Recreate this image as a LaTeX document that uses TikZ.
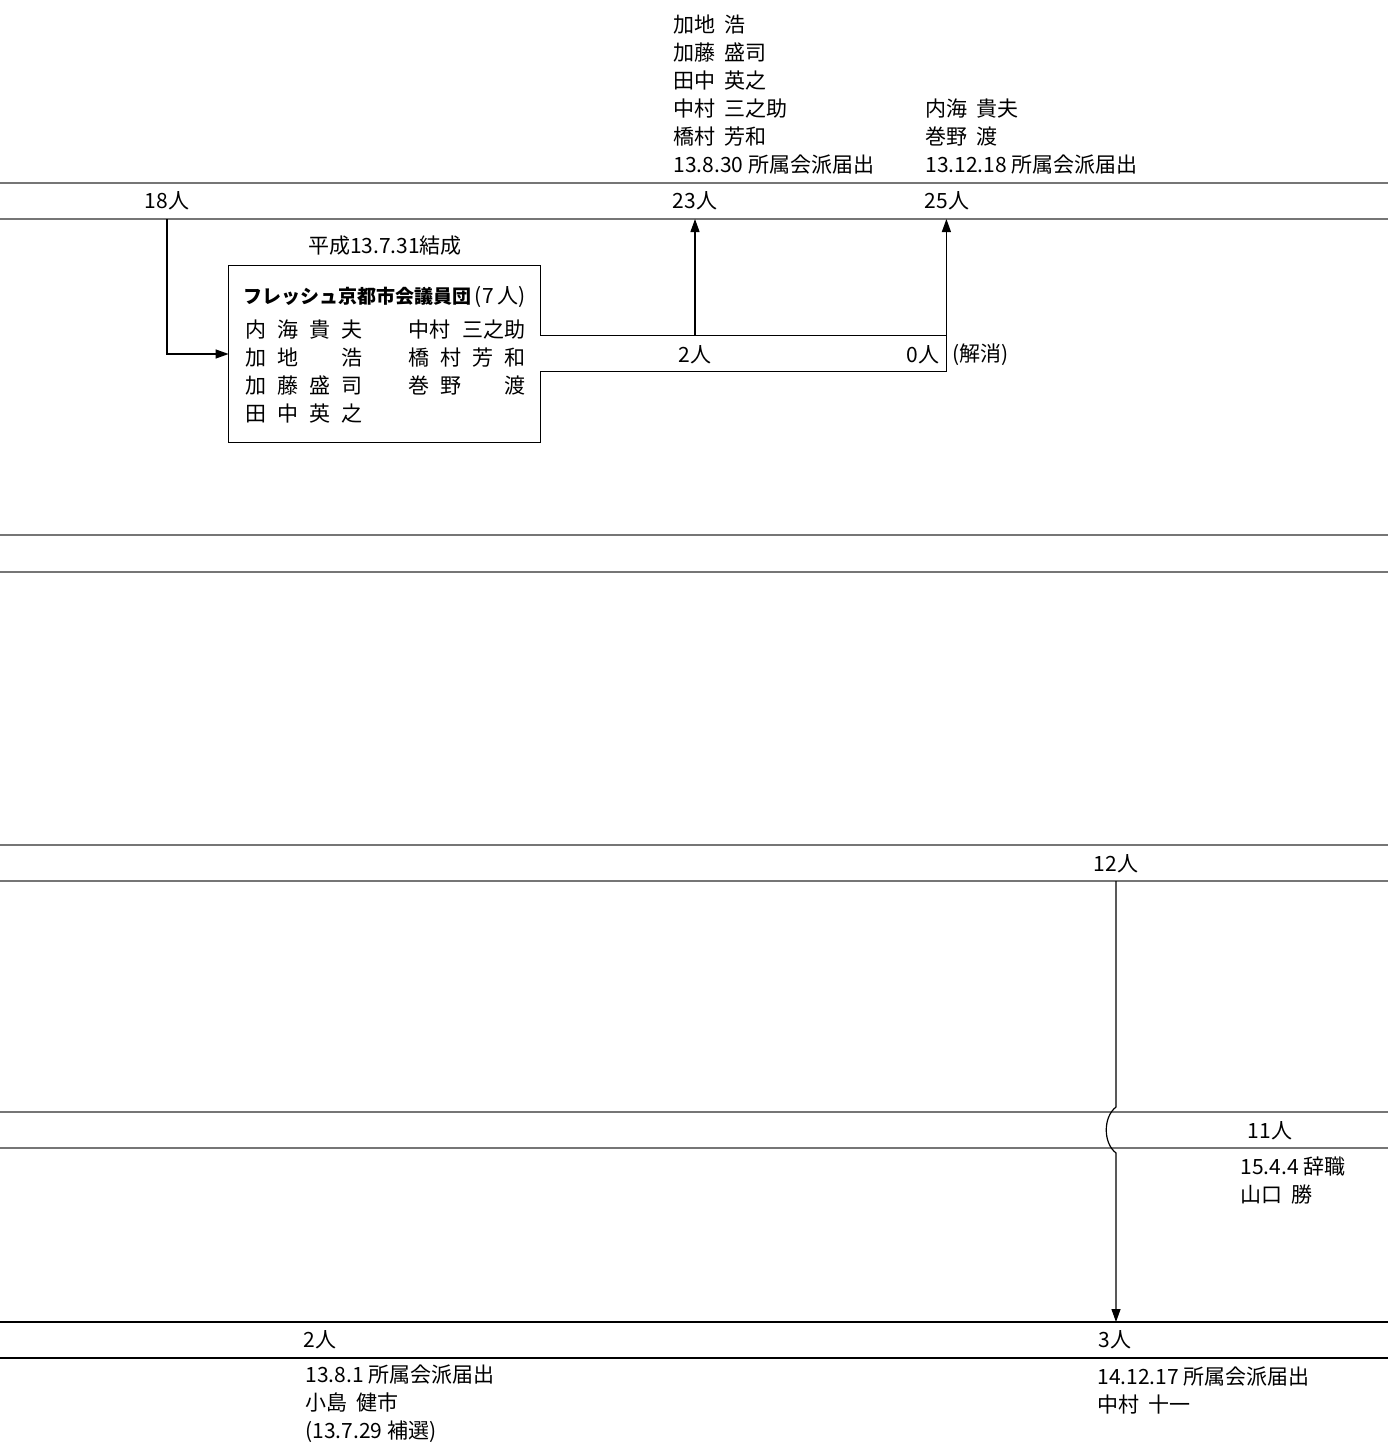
\documentclass[tikz,border=0pt]{standalone}
\usepackage{fontspec}
\setmainfont{Noto Sans CJK JP}
\usetikzlibrary{arrows.meta,positioning}
\definecolor{bandgray}{RGB}{118,118,118}
\newcommand{\kc}[1]{\makebox[16pt][l]{#1}}
\newcommand{\gap}{\hspace{0.45em}}

\begin{document}
\begin{tikzpicture}[x=0.5pt,y=-0.5pt,
  font=\fontsize{10.5pt}{14pt}\selectfont,
  band/.style={draw=bandgray,line width=1pt},
  bandk/.style={draw=black,line width=0.8pt},
  cnt/.style={inner sep=0pt},
  note/.style={inner sep=0pt,anchor=west,align=left},
  arr/.style={-{Triangle[length=6.5pt,width=4.5pt]},line width=0.6pt},
  grp/.style={draw,line width=0.6pt}
]
\useasboundingbox (0,0) rectangle (1388,1445);
% Bands
\foreach \ya/\yb in {183/219,535/572,845/881,1112/1148}{
  \draw[band] (0,\ya) -- (1388,\ya);
  \draw[band] (0,\yb) -- (1388,\yb);
}
\draw[bandk] (0,1322) -- (1388,1322);
\draw[bandk] (0,1358) -- (1388,1358);
\coordinate (b1lo) at (0,219);
\coordinate (b3lo) at (0,881);
\coordinate (jmpA) at (0,1107);
\coordinate (jmpB) at (0,1153);
\coordinate (b5hi) at (0,1322);
% Counts
\node[cnt] (n18) at (167,201) {18人};
\node[cnt] (n23) at (695,201) {23人};
\node[cnt] (n25) at (947,201) {25人};
\node[cnt] (n12) at (1116,864) {12人};
\node[cnt] (n11) at (1270,1131) {11人};
\node[cnt] (n2b) at (320,1340) {2人};
\node[cnt] (n3) at (1115,1340) {3人};
% Notes
\node[note] (addA) at (673,95)
  {加地\gap 浩\\加藤\gap 盛司\\田中\gap 英之\\中村\gap 三之助\\橋村\gap 芳和\\13.8.30 所属会派届出};
\node[note] (addB) at (925,137)
  {内海\gap 貴夫\\巻野\gap 渡\\13.12.18 所属会派届出};
\node[note] (resign) at (1240,1181) {15.4.4 辞職\\山口\gap 勝};
\node[note] (addC) at (305,1404)
  {13.8.1 所属会派届出\\小島\gap 健市\\(13.7.29 補選)};
\node[note] (addD) at (1097,1390) {14.12.17 所属会派届出\\中村\gap 十一};
% Group box
\node[cnt] (formed) at (385,246) {平成13.7.31結成};
\node[minimum width=155.5pt,minimum height=88pt,inner sep=0pt] (fresh) at (384.5,354) {};
\draw[grp] (fresh.north west) -- (fresh.north east) -- ++(0,70)
  -- ++(406,0) coordinate (tabNE) -- ++(0,36) -- ++(-406,0)
  |- (fresh.south west) -- cycle;
\node[note] (title) at (243,297)
  {{\fontsize{9.5pt}{14pt}\selectfont\bfseries フレッシュ京都市会議員団}\,(7\,人)};
\node[note] (colL) at (245,372)
  {\kc{内}\kc{海}\kc{貴}夫\\\kc{加}\kc{地}\kc{}浩\\\kc{加}\kc{藤}\kc{盛}司\\\kc{田}\kc{中}\kc{英}之};
\node[note] (colR) at (408,358)
  {中村\hspace{6pt}三之助\\\kc{橋}\kc{村}\kc{芳}和\\\kc{巻}\kc{野}\kc{}渡};
\node[cnt] (n2) at (695,355) {2人};
\node[cnt,anchor=east] (n0) at (940,355) {0人};
\node[cnt,anchor=west] (gone) at (952,355) {(解消)};
% Connectors
\draw[arr] (n18 |- b1lo) |- (fresh.west);
\draw[arr] (n2 |- tabNE) -- (n23 |- b1lo);
\draw[arr] (tabNE) -- (tabNE |- b1lo);
\draw[arr] (n12 |- b3lo) -- (n12 |- jmpA)
  .. controls +(-13,10) and +(-13,-10) .. (n12 |- jmpB) -- (n12 |- b5hi);
\end{tikzpicture}
\end{document}
